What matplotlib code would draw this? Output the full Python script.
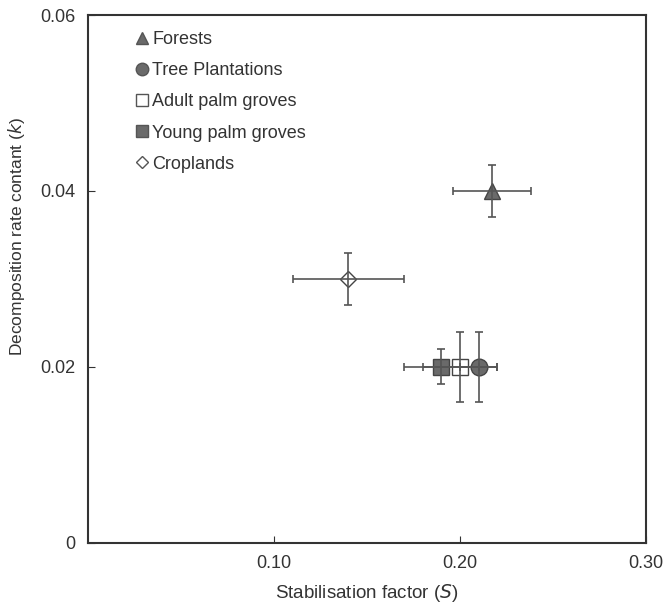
import numpy as np
import matplotlib.pyplot as plt

plt.rcParams['font.family'] = ['Liberation Sans', 'DejaVu Sans']

# land-use categories and read-off values
labels = ["Forests", "Tree Plantations", "Adult palm groves", "Young palm groves", "Croplands"]
s_vals = [0.217, 0.21, 0.20, 0.19, 0.14]
s_err = [0.021, 0.01, 0.02, 0.02, 0.03]
k_vals = [0.040, 0.020, 0.020, 0.020, 0.030]
k_err = [0.003, 0.004, 0.004, 0.002, 0.003]

markers = ["^", "o", "s", "s", "D"]
faces = ["#6a6a6a", "#6a6a6a", "white", "#6a6a6a", "white"]
sizes = [12, 12, 12, 12, 8.5]

fig = plt.figure(figsize=(6.66, 6.05), dpi=100)
ax = fig.add_axes([0.132, 0.103, 0.838, 0.872])

for i in range(len(labels)):
    ax.plot(s_vals[i], k_vals[i], linestyle="none", marker=markers[i],
            markersize=sizes[i], markerfacecolor=faces[i],
            markeredgecolor="#444444", markeredgewidth=1.0, zorder=3)
    ax.errorbar(s_vals[i], k_vals[i], xerr=s_err[i], yerr=k_err[i],
                fmt="none", ecolor="#555555", elinewidth=1.2, capsize=3,
                capthick=1.2, zorder=4)

# legend uses small markers
leg_handles = []
for i in range(len(labels)):
    lh, = ax.plot([], [], linestyle="none", marker=markers[i],
                  markersize=9 if markers[i] != "D" else 6.5,
                  markerfacecolor=faces[i], markeredgecolor="#555555",
                  markeredgewidth=1.0)
    leg_handles.append(lh)
ax.legend(leg_handles, labels, loc="upper left", frameon=False, fontsize=13,
          handlelength=0.6, handletextpad=0.25, labelspacing=0.78,
          borderaxespad=0.0, bbox_to_anchor=(0.075, 0.983),
          labelcolor="#333333")

ax.set_xlim(0, 0.30)
ax.set_ylim(0, 0.06)
ax.set_xticks([0.10, 0.20, 0.30])
ax.set_xticklabels(["0.10", "0.20", "0.30"])
ax.set_yticks([0, 0.02, 0.04, 0.06])
ax.set_yticklabels(["0", "0.02", "0.04", "0.06"])
ax.tick_params(direction="in", length=5, labelsize=13, colors="#333333",
               pad=9)
for sp in ax.spines.values():
    sp.set_linewidth(1.5)
    sp.set_color("#333333")

ax.set_xlabel("Stabilisation factor ($\\it{S}$)", fontsize=13.5, color="#333333", labelpad=7)
ax.set_ylabel("Decomposition rate contant ($\\it{k}$)", fontsize=12.5, color="#333333", labelpad=8)
ax.yaxis.set_label_coords(-0.11, 0.58)

fig.savefig("out.png", dpi=100)
